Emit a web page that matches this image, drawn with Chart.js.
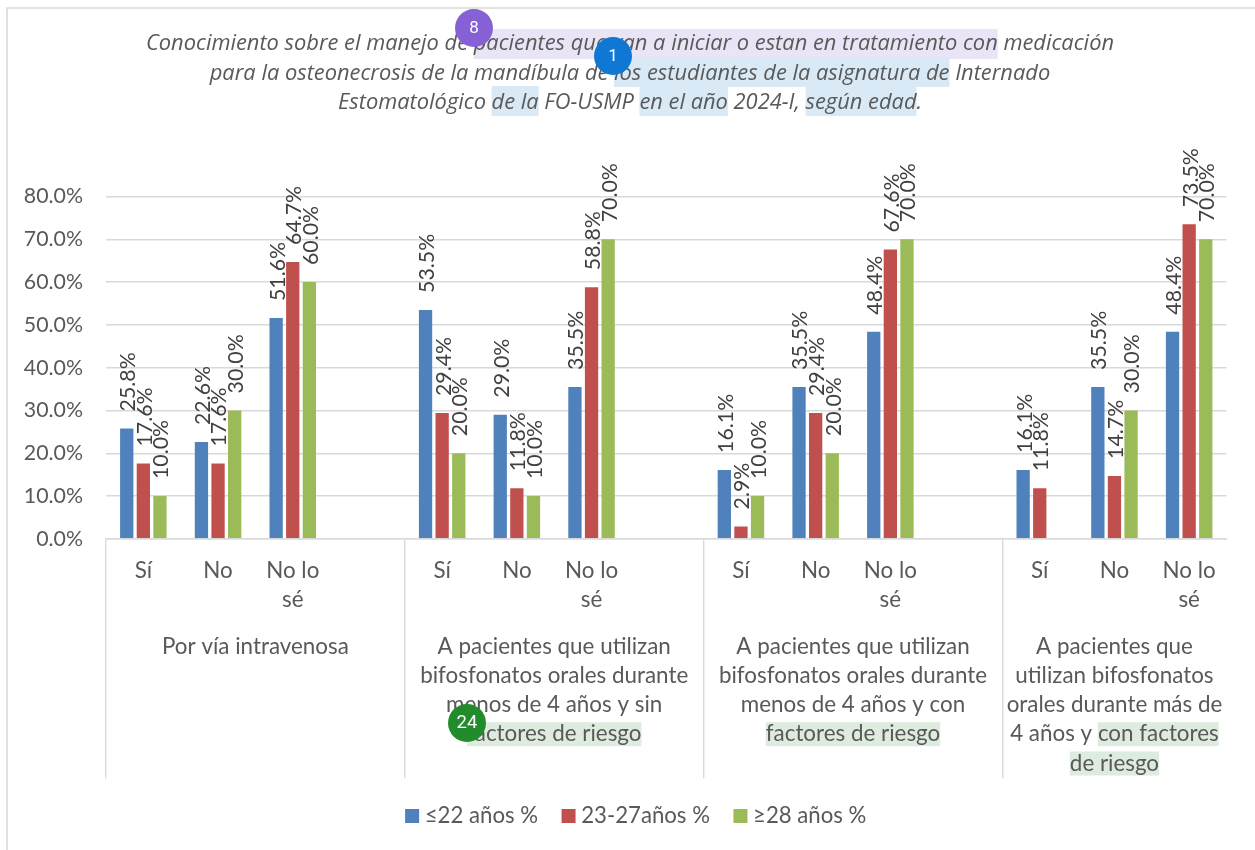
<!DOCTYPE html>
<html lang="es">
<head>
<meta charset="utf-8">
<title>Conocimiento sobre el manejo de pacientes</title>
<script src="https://cdn.jsdelivr.net/npm/chart.js@4"></script>
<style>
html,body{margin:0;padding:0;background:#fff;overflow:hidden}
canvas{display:block}
</style>
</head>
<body>
<canvas id="c" width="1255" height="850"></canvas>
<script>
// ---- data ----
const categories = ['Sí','No',['No lo','sé'],'', 'Sí','No',['No lo','sé'],'', 'Sí','No',['No lo','sé'],'', 'Sí','No',['No lo','sé']];
const seriesNames = ['≤22 años %','23-27años %','≥28 años %'];
const young  = [25.8,22.6,51.6,null, 53.5,29.0,35.5,null, 16.1,35.5,48.4,null, 16.1,35.5,48.4];
const middle = [17.6,17.6,64.7,null, 29.4,11.8,58.8,null,  2.9,29.4,67.6,null, 11.8,14.7,73.5];
const older  = [10.0,30.0,60.0,null, 20.0,10.0,70.0,null, 10.0,20.0,70.0,null, null,30.0,70.0];
const yTicks = [0,10,20,30,40,50,60,70,80];
const titleLines = [
  [['Conocimiento sobre el manejo de ',0],['pacientes que van a iniciar o estan en tratamiento con',1],[' medicación',0]],
  [['para la osteonecrosis de la mandíbula de ',0],['los estudiantes de la asignatura de',2],[' Internado',0]],
  [['Estomatológico ',0],['de la',2],[' FO-USMP ',0],['en el año',2],[' 2024-I, ',0],['según edad',2],['.',0]]
];
const groupLabels = [
  [[['Por vía intravenosa',0]]],
  [[['A pacientes que utilizan',0]],[['bifosfonatos orales durante',0]],[['menos de 4 años y sin',0]],[['factores de riesgo',3]]],
  [[['A pacientes que utilizan',0]],[['bifosfonatos orales durante',0]],[['menos de 4 años y con',0]],[['factores de riesgo',3]]],
  [[['A pacientes que',0]],[['utilizan bifosfonatos',0]],[['orales durante más de',0]],[['4 años y ',0],['con factores',3]],[['de riesgo',3]]]
];
const groupEdges = [0,4,8,12,15];
const badgeTexts = ['8','1','24'];

// ---- style ----
const BLUE='#4f81bd', RED='#c0504d', GREEN='#9bbb59', GRID='#d9d9d9', TEXT='#595959';
const FONT='Lato';
const FS=22.4, NUM_FS=21.3, LEG_FS=22.2, TITLE_FS=21.85;
const marks={1:'#e9e5f6',2:'#d9e9f6',3:'#deecdf'};
const TITLE_FONT='italic '+TITLE_FS+'px "Open Sans"';
const TITLE_TAIL='\u00A0\u00A0\u00A0';
const badgeSpots=[{x:474,y:28,c:'#8661d5',s:17},{x:613,y:56,c:'#0f78d4',s:17},{x:467,y:723,c:'#228b2b',s:18.5}];
const edgeSet=new Set(groupEdges);

function lineText(segs){return segs.map(s=>s[0]).join('');}
function segRects(ctx,segs,cx,cy,h,tail){
  const full=lineText(segs)+(tail||'');
  const left=cx-ctx.measureText(full).width/2;
  let pre='';
  for(const [t,m] of segs){
    if(m){
      const a=ctx.measureText(pre).width, b=ctx.measureText(pre+t).width;
      ctx.fillStyle=marks[m];
      ctx.fillRect(left+a,cy-h/2,b-a,h);
    }
    pre+=t;
  }
}
function groupPos(chart,i){
  const x=chart.scales.x;
  const w=x.width/categories.length;
  return (x.left+groupEdges[i]*w+x.left+groupEdges[i+1]*w)/2;
}
const decor={
  id:'decor',
  afterLayout(chart){ chart.scales.y.left=15; },
  beforeDraw(chart){
    const ctx=chart.ctx;
    ctx.save();
    ctx.fillStyle='#fff';ctx.fillRect(0,0,chart.width,chart.height);
    ctx.strokeStyle=GRID;ctx.lineWidth=1.6;
    ctx.beginPath();ctx.moveTo(7,chart.height);ctx.lineTo(7,8);ctx.lineTo(chart.width,8);ctx.stroke();
    const tb=chart.titleBlock;
    const cx=(tb.left+tb.right)/2;
    ctx.font=TITLE_FONT;
    titleLines.forEach((l,i)=>segRects(ctx,l,cx,[44,72,101][i],30,TITLE_TAIL));
    ctx.font=FS+'px '+FONT;
    groupLabels.forEach((g,i)=>g.forEach((l,j)=>segRects(ctx,l,groupPos(chart,i),chart.scales.x.top+107.5+j*29.3,24)));
    ctx.restore();
  },
  afterDatasetsDraw(chart){
    const ctx=chart.ctx;
    ctx.save();
    ctx.fillStyle='#404040';
    ctx.font=NUM_FS+'px '+FONT;
    ctx.textAlign='left';ctx.textBaseline='middle';
    chart.data.datasets.forEach((ds,i)=>{
      chart.getDatasetMeta(i).data.forEach((el,j)=>{
        const v=ds.data[j];
        if(v==null)return;
        ctx.save();
        ctx.translate(el.x+1.5,el.y-17);
        ctx.rotate(-Math.PI/2);
        ctx.fillText(v.toFixed(1)+'%',0,0);
        ctx.restore();
      });
    });
    ctx.restore();
  },
  afterDraw(chart){
    const ctx=chart.ctx;
    ctx.save();
    ctx.fillStyle=TEXT;
    ctx.font=FS+'px '+FONT;
    ctx.textAlign='center';ctx.textBaseline='middle';
    groupLabels.forEach((g,i)=>g.forEach((l,j)=>ctx.fillText(lineText(l),groupPos(chart,i),chart.scales.x.top+107.5+j*29.3)));
    badgeSpots.forEach((b,i)=>{
      ctx.fillStyle=b.c;
      ctx.beginPath();ctx.arc(b.x,b.y,19,0,Math.PI*2);ctx.fill();
      ctx.fillStyle='#fff';
      ctx.font=b.s+'px Roboto';
      ctx.fillText(badgeTexts[i],b.x,b.y+0.5);
    });
    ctx.restore();
  }
};

new Chart(document.getElementById('c'),{
  type:'bar',
  data:{
    labels:categories,
    datasets:[
      {label:seriesNames[0],data:young,backgroundColor:BLUE},
      {label:seriesNames[1],data:middle,backgroundColor:RED},
      {label:seriesNames[2],data:older,backgroundColor:GREEN}
    ]
  },
  options:{
    responsive:false,
    animation:false,
    devicePixelRatio:1,
    categoryPercentage:0.667,
    barPercentage:0.8,
    layout:{padding:{left:50.5,right:28.5,top:29.5,bottom:13}},
    scales:{
      x:{
        offset:true,
        grid:{
          offset:true,
          drawOnChartArea:false,
          tickLength:239.5,
          lineWidth:1.4,
          color:c=>edgeSet.has(c.index)?GRID:'rgba(0,0,0,0)',
          tickColor:c=>edgeSet.has(c.index)?GRID:'rgba(0,0,0,0)'
        },
        border:{display:true,color:GRID,width:1.4},
        ticks:{
          autoSkip:false,maxRotation:0,minRotation:0,
          padding:-222,
          color:TEXT,
          font:{family:FONT,size:FS,lineHeight:29.3/FS}
        },
        afterFit(s){s.height=237;}
      },
      y:{
        min:0,max:80,
        afterBuildTicks(s){s.ticks=yTicks.map(v=>({value:v}));},
        grid:{color:GRID,lineWidth:1.4,drawTicks:false},
        border:{display:false},
        ticks:{
          padding:23,
          color:TEXT,
          font:{family:FONT,size:NUM_FS},
          callback:v=>v.toFixed(1)+'%'
        },
        afterFit(s){s.width=55.5;}
      }
    },
    plugins:{
      tooltip:{enabled:false},
      title:{
        display:true,
        text:titleLines.map(l=>lineText(l)+TITLE_TAIL),
        color:TEXT,
        font:{family:'Open Sans',size:TITLE_FS,style:'italic',weight:'normal',lineHeight:29.5/TITLE_FS},
        padding:{top:0,bottom:78.5}
      },
      legend:{
        display:true,
        position:'bottom',
        labels:{
          boxWidth:3,boxHeight:3,padding:29,
          color:TEXT,
          font:{family:FONT,size:LEG_FS,lineHeight:1},
          generateLabels(chart){
            const items=Chart.defaults.plugins.legend.labels.generateLabels(chart);
            items.forEach(i=>{i.lineWidth=11;i.strokeStyle=i.fillStyle;});
            return items;
          }
        }
      }
    }
  },
  plugins:[decor]
});
</script>
</body>
</html>
